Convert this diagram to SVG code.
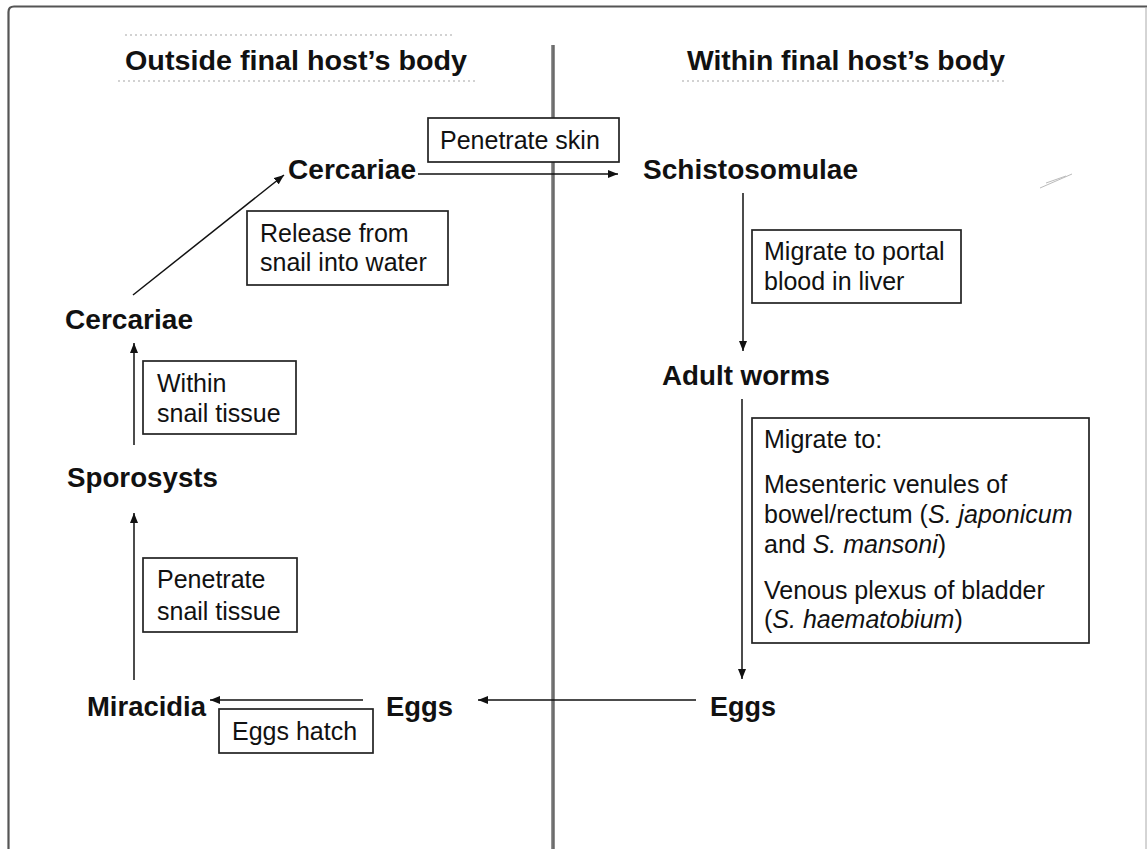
<svg xmlns="http://www.w3.org/2000/svg" width="1147" height="849" viewBox="0 0 1147 849">
<defs>
<style>
.hdr{font-family:"Liberation Sans",Arial,sans-serif;font-weight:bold;font-size:28.5px;fill:#111}
.lbl{font-family:"Liberation Sans",Arial,sans-serif;font-weight:bold;font-size:27.5px;fill:#111}
.txt{font-family:"Liberation Sans",Arial,sans-serif;font-size:25px;fill:#111}
.it{font-style:italic}
.box{fill:#fff;stroke:#222;stroke-width:1.7}
.con{stroke:#111;stroke-width:1.5;fill:none}
.faint{stroke:#c4c4c4;stroke-width:1.3;stroke-dasharray:2 3;fill:none}
</style>
<marker id="ah" markerUnits="userSpaceOnUse" markerWidth="11" markerHeight="8" refX="10" refY="4" orient="auto">
<path d="M0,0 L10,4 L0,8 z" fill="#111"/>
</marker>
</defs>
<rect width="1147" height="849" fill="#fff"/>
<g id="frame">
<path d="M8.5,849 V12 Q8.5,6.5 14,6.5 H1147" fill="none" stroke="#555" stroke-width="2.2"/>
<line x1="1146" y1="7" x2="1146" y2="849" stroke="#aaa" stroke-width="1"/>
<line x1="553" y1="45" x2="553" y2="849" stroke="#6a6a6a" stroke-width="3.5"/>
<line x1="551.8" y1="45" x2="551.8" y2="849" stroke="#9a9a9a" stroke-width="0.8"/>
<line x1="125" y1="35" x2="455" y2="35" class="faint" stroke="#e2e2e2"/>
<line x1="118" y1="81" x2="478" y2="81" class="faint"/>
<line x1="682" y1="81" x2="1004" y2="81" class="faint"/>
<path d="M1040,188 L1072,174 M1046,183 L1066,176" stroke="#bbb" stroke-width="1" fill="none"/>
</g>
<g id="headers">
<text class="hdr" x="125" y="70" textLength="342" lengthAdjust="spacingAndGlyphs">Outside final host’s body</text>
<text class="hdr" x="687" y="70" textLength="318" lengthAdjust="spacingAndGlyphs">Within final host’s body</text>
</g>
<g id="connectors">
<line class="con" x1="133" y1="295" x2="284" y2="175" marker-end="url(#ah)"/>
<line class="con" x1="418" y1="174" x2="618" y2="174" marker-end="url(#ah)"/>
<line class="con" x1="743" y1="193" x2="743" y2="351" marker-end="url(#ah)"/>
<line class="con" x1="742" y1="399" x2="742" y2="679" marker-end="url(#ah)"/>
<line class="con" x1="696" y1="700" x2="478" y2="700" marker-end="url(#ah)"/>
<line class="con" x1="363" y1="700" x2="210" y2="700" marker-end="url(#ah)"/>
<line class="con" x1="134" y1="680" x2="134" y2="513" marker-end="url(#ah)"/>
<line class="con" x1="134" y1="445" x2="134" y2="343" marker-end="url(#ah)"/>
</g>
<g id="n-cercariae-top"><text class="lbl" x="288" y="179" textLength="128" lengthAdjust="spacingAndGlyphs">Cercariae</text></g>
<g id="n-schistosomulae"><text class="lbl" x="643" y="179" textLength="215" lengthAdjust="spacingAndGlyphs">Schistosomulae</text></g>
<g id="n-adult"><text class="lbl" x="662" y="385" textLength="168" lengthAdjust="spacingAndGlyphs">Adult worms</text></g>
<g id="n-eggs-right"><text class="lbl" x="710" y="716" textLength="66" lengthAdjust="spacingAndGlyphs">Eggs</text></g>
<g id="n-eggs-left"><text class="lbl" x="386" y="716" textLength="67" lengthAdjust="spacingAndGlyphs">Eggs</text></g>
<g id="n-miracidia"><text class="lbl" x="87" y="716" textLength="119" lengthAdjust="spacingAndGlyphs">Miracidia</text></g>
<g id="n-sporosysts"><text class="lbl" x="67" y="487" textLength="151" lengthAdjust="spacingAndGlyphs">Sporosysts</text></g>
<g id="n-cercariae-low"><text class="lbl" x="65" y="329" textLength="128" lengthAdjust="spacingAndGlyphs">Cercariae</text></g>
<g id="b-penetrate-skin">
<rect class="box" x="428" y="118" width="191" height="44"/>
<text class="txt" x="440" y="149">Penetrate skin</text>
</g>
<g id="b-release">
<rect class="box" x="247" y="211" width="201" height="74"/>
<text class="txt" x="260" y="242">Release from</text>
<text class="txt" x="260" y="271">snail into water</text>
</g>
<g id="b-within-snail">
<rect class="box" x="143" y="361" width="153" height="73"/>
<text class="txt" x="157" y="392">Within</text>
<text class="txt" x="157" y="422">snail tissue</text>
</g>
<g id="b-penetrate-snail">
<rect class="box" x="143" y="558" width="154" height="74"/>
<text class="txt" x="157" y="588">Penetrate</text>
<text class="txt" x="157" y="620">snail tissue</text>
</g>
<g id="b-portal">
<rect class="box" x="752" y="230" width="209" height="73"/>
<text class="txt" x="764" y="260">Migrate to portal</text>
<text class="txt" x="764" y="290">blood in liver</text>
</g>
<g id="b-migrate">
<rect class="box" x="752" y="418" width="337" height="225"/>
<text class="txt" x="764" y="448">Migrate to:</text>
<text class="txt" x="764" y="493">Mesenteric venules of</text>
<text class="txt" x="764" y="523">bowel/rectum (<tspan class="it">S. japonicum</tspan></text>
<text class="txt" x="764" y="553">and <tspan class="it">S. mansoni</tspan>)</text>
<text class="txt" x="764" y="599">Venous plexus of bladder</text>
<text class="txt" x="764" y="628">(<tspan class="it">S. haematobium</tspan>)</text>
</g>
<g id="b-eggs-hatch">
<rect class="box" x="219" y="709" width="154" height="44"/>
<text class="txt" x="232" y="740">Eggs hatch</text>
</g>
</svg>
